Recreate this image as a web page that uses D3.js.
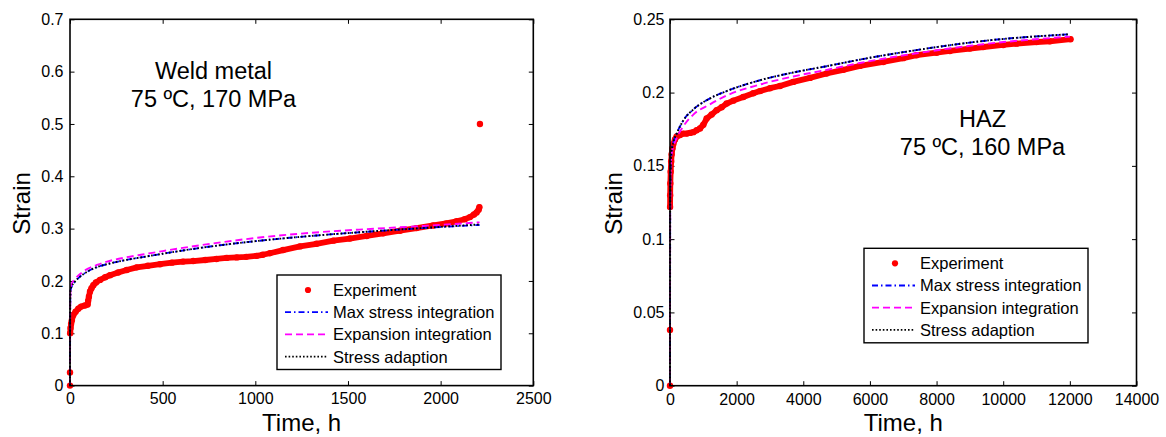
<!DOCTYPE html>
<html>
<head>
<meta charset="utf-8">
<script src="https://cdn.jsdelivr.net/npm/d3@7"></script>
<style>
  body { margin: 0; background: #fff; }
  svg text { font-family: "Liberation Sans", Arial, sans-serif; fill: #000; }
</style>
</head>
<body>
<svg id="chart" width="1166" height="437"></svg>
<script>
// ---- Weld metal, 75 ºC, 170 MPa ----
const weldExpTime = [0, 0, 1, 3, 6, 10, 18, 30, 45, 60, 80, 95, 98, 102, 108, 116, 126, 140, 162, 190,
  216, 260, 306, 360, 420, 486, 550, 610, 665, 730, 790, 845, 900, 950, 1007, 1040, 1079, 1150, 1241, 1330,
  1421, 1510, 1601, 1690, 1781, 1870, 1960, 2030, 2086, 2130, 2158, 2180, 2194, 2205, 2209, 2212];
const weldExpStrain = [0, 0.025, 0.1, 0.11, 0.118, 0.125, 0.135, 0.141, 0.147, 0.151, 0.153, 0.155, 0.162, 0.17, 0.18, 0.186, 0.192, 0.197, 0.202, 0.207,
  0.211, 0.216, 0.221, 0.226, 0.229, 0.232, 0.235, 0.237, 0.238, 0.24, 0.242, 0.244, 0.245, 0.246, 0.248, 0.25, 0.253, 0.259, 0.266, 0.271,
  0.277, 0.281, 0.286, 0.291, 0.296, 0.301, 0.306, 0.31, 0.314, 0.318, 0.322, 0.327, 0.331, 0.336, 0.341, 0.5];
const weldModelTime = [0, 1, 3, 10, 25, 50, 100, 150, 200, 300, 400, 500, 700, 1000, 1300, 1600, 1900, 2210];
const weldMaxStress = [0, 0.15, 0.182, 0.19, 0.198, 0.207, 0.219, 0.227, 0.232, 0.24, 0.246, 0.252, 0.263, 0.276, 0.286, 0.294, 0.301, 0.307];
const weldExpansion = [0, 0.15, 0.185, 0.195, 0.203, 0.212, 0.224, 0.231, 0.237, 0.245, 0.251, 0.257, 0.268, 0.282, 0.292, 0.299, 0.305, 0.312];
const weldAdaption  = [0, 0.15, 0.182, 0.19, 0.198, 0.207, 0.219, 0.227, 0.232, 0.24, 0.246, 0.252, 0.263, 0.276, 0.286, 0.294, 0.301, 0.308];
const weldXTicks = [0, 500, 1000, 1500, 2000, 2500];
const weldXTickLabels = ["0", "500", "1000", "1500", "2000", "2500"];
const weldYTicks = [0, 0.1, 0.2, 0.3, 0.4, 0.5, 0.6, 0.7];
const weldYTickLabels = ["0", "0.1", "0.2", "0.3", "0.4", "0.5", "0.6", "0.7"];
const weldNote = ["Weld metal", "75 \u00baC, 170 MPa"];

// ---- HAZ, 75 ºC, 160 MPa ----
const hazExpTime = [0, 0, 2, 5, 10, 20, 35, 50, 75, 100, 150, 200, 300, 400, 500, 600, 700, 800, 900, 1000,
  1100, 1250, 1400, 1550, 1700, 1900, 2200, 2500, 2700, 3000, 3300, 3700, 4200, 4700, 5200, 5700, 6400, 7000, 7400, 8000,
  8400, 9000, 9400, 10000, 10400, 11000, 11400, 12020];
const hazExpStrain = [0, 0.038, 0.122, 0.13, 0.138, 0.146, 0.153, 0.158, 0.162, 0.165, 0.168, 0.17, 0.171, 0.172, 0.172, 0.1725, 0.173, 0.1743, 0.1755, 0.178,
  0.1823, 0.185, 0.188, 0.19, 0.1925, 0.1945, 0.197, 0.1995, 0.201, 0.203, 0.2045, 0.2073, 0.21, 0.213, 0.2155, 0.2182, 0.2209, 0.2235, 0.2255, 0.2272,
  0.2284, 0.23, 0.2311, 0.2325, 0.2334, 0.2345, 0.235, 0.2364];
const hazModelTime = [0, 5, 20, 50, 100, 200, 400, 700, 1200, 1700, 2700, 3700, 4700, 5700, 7400, 9400, 12000];
const hazMaxStress = [0, 0.12, 0.15, 0.16, 0.166, 0.172, 0.181, 0.1885, 0.196, 0.201, 0.2084, 0.2137, 0.218, 0.2225, 0.229, 0.2352, 0.2398];
const hazExpansion = [0, 0.12, 0.148, 0.158, 0.163, 0.169, 0.177, 0.185, 0.192, 0.198, 0.2055, 0.211, 0.2155, 0.2202, 0.2268, 0.233, 0.2382];
const hazAdaption  = [0, 0.12, 0.15, 0.16, 0.166, 0.172, 0.181, 0.1885, 0.196, 0.201, 0.2084, 0.2137, 0.218, 0.2225, 0.229, 0.2352, 0.2398];
const hazXTicks = [0, 2000, 4000, 6000, 8000, 10000, 12000, 14000];
const hazXTickLabels = ["0", "2000", "4000", "6000", "8000", "10000", "12000", "14000"];
const hazYTicks = [0, 0.05, 0.1, 0.15, 0.2, 0.25];
const hazYTickLabels = ["0", "0.05", "0.1", "0.15", "0.2", "0.25"];
const hazNote = ["HAZ", "75 \u00baC, 160 MPa"];

const seriesNames = ["Experiment", "Max stress integration", "Expansion integration", "Stress adaption"];

const svg = d3.select("#chart");

const styles = {
  exp:  { color: "#ff0000" },
  max:  { color: "#0000ff", dash: "6,3,1.5,3" },
  expn: { color: "#ff00ff", dash: "7,4" },
  adp:  { color: "#000000", dash: "1.6,2" }
};

function drawPanel(p) {
  const g = svg.append("g");
  const x = d3.scaleLinear().domain([p.xTicks[0], p.xTicks[p.xTicks.length - 1]]).range([p.left, p.right]);
  const y = d3.scaleLinear().domain([p.yTicks[0], p.yTicks[p.yTicks.length - 1]]).range([p.bottom, p.top]);
  const tick = 4.5;

  // axes: labelled bottom/left, mirrored ticks on top/right
  const ax = (axis, tr) => {
    const a = g.append("g").attr("transform", tr).call(axis);
    a.select(".domain").remove();
    a.selectAll(".tick line").attr("stroke", "#000").attr("stroke-width", 1);
    a.selectAll("text").attr("font-size", 16).attr("font-family", "Liberation Sans, Arial, sans-serif").attr("fill", "#000");
    return a;
  };
  ax(d3.axisBottom(x).tickValues(p.xTicks).tickSize(-tick).tickPadding(7.5)
      .tickFormat((d, i) => p.xTickLabels[i]), `translate(0,${p.bottom})`);
  ax(d3.axisTop(x).tickValues(p.xTicks).tickSize(-tick).tickFormat(""), `translate(0,${p.top})`);
  ax(d3.axisLeft(y).tickValues(p.yTicks).tickSize(-tick).tickPadding(p.yPad)
      .tickFormat((d, i) => p.yTickLabels[i]), `translate(${p.left},0)`);
  ax(d3.axisRight(y).tickValues(p.yTicks).tickSize(-tick).tickFormat(""), `translate(${p.right},0)`);

  // experiment: dense red dots tracing a thick trail
  const exp = p.expTime.map((t, i) => [t, p.expStrain[i]]);
  const trail = exp.slice(p.trail[0], p.trail[1]);
  g.append("path").datum(trail)
    .attr("d", d3.line().x(d => x(d[0])).y(d => y(d[1])))
    .attr("fill", "none").attr("stroke", styles.exp.color)
    .attr("stroke-width", 5.8).attr("stroke-linejoin", "round").attr("stroke-linecap", "round");
  g.append("g").selectAll("circle").data(exp).join("circle")
    .attr("cx", d => x(d[0])).attr("cy", d => y(d[1])).attr("r", 3.2)
    .attr("fill", styles.exp.color);

  // model curves
  const line = d3.line().curve(d3.curveMonotoneX).x(d => x(d[0])).y(d => y(d[1]));
  [["max", p.maxStress], ["expn", p.expansion], ["adp", p.adaption]].forEach(([k, vals]) => {
    g.append("path").datum(p.modelTime.map((t, i) => [t, vals[i]]))
      .attr("d", line).attr("fill", "none")
      .attr("stroke", styles[k].color).attr("stroke-width", 1.9)
      .attr("stroke-dasharray", styles[k].dash);
  });

  // frame
  g.append("rect").attr("x", p.left).attr("y", p.top)
    .attr("width", p.right - p.left).attr("height", p.bottom - p.top)
    .attr("fill", "none").attr("stroke", "#000").attr("stroke-width", 1.6);

  // axis titles
  g.append("text").attr("x", (p.left + p.right) / 2).attr("y", 431)
    .attr("text-anchor", "middle").attr("font-size", 24).text("Time, h");
  g.append("text").attr("transform", `translate(${p.yTitleX},${(p.top + p.bottom) / 2 + 1}) rotate(-90)`)
    .attr("text-anchor", "middle").attr("font-size", 24).text("Strain");

  // condition note
  p.note.forEach((s, i) => {
    g.append("text").attr("x", p.noteX).attr("y", p.noteY + i * 28)
      .attr("text-anchor", "middle").attr("font-size", 23.5).text(s);
  });

  // legend
  const lg = g.append("g").attr("transform", `translate(${p.legend[0]},${p.legend[1]})`);
  lg.append("rect").attr("width", 224).attr("height", 94.5)
    .attr("fill", "#fff").attr("stroke", "#000").attr("stroke-width", 1.4);
  const keys = ["exp", "max", "expn", "adp"];
  seriesNames.forEach((name, i) => {
    const ry = 15 + i * 22.2;
    if (keys[i] === "exp") {
      lg.append("circle").attr("cx", 31).attr("cy", ry).attr("r", 3.1).attr("fill", styles.exp.color);
    } else {
      lg.append("line").attr("x1", 8).attr("x2", 51).attr("y1", ry).attr("y2", ry)
        .attr("stroke", styles[keys[i]].color).attr("stroke-width", 1.8)
        .attr("stroke-dasharray", styles[keys[i]].dash);
    }
    lg.append("text").attr("x", 56).attr("y", ry).attr("dy", "0.36em")
      .attr("font-size", 16.5).text(name);
  });
}

drawPanel({
  left: 70, right: 533.3, top: 19.3, bottom: 385.6, yPad: 6.5, yTitleX: 30,
  xTicks: weldXTicks, xTickLabels: weldXTickLabels, yTicks: weldYTicks, yTickLabels: weldYTickLabels,
  expTime: weldExpTime, expStrain: weldExpStrain, trail: [2, weldExpTime.length - 1],
  modelTime: weldModelTime, maxStress: weldMaxStress, expansion: weldExpansion, adaption: weldAdaption,
  note: weldNote, noteX: 213.5, noteY: 79,
  legend: [277, 275]
});

drawPanel({
  left: 670, right: 1136.5, top: 19.3, bottom: 385.7, yPad: 5.5, yTitleX: 622,
  xTicks: hazXTicks, xTickLabels: hazXTickLabels, yTicks: hazYTicks, yTickLabels: hazYTickLabels,
  expTime: hazExpTime, expStrain: hazExpStrain, trail: [2, hazExpTime.length],
  modelTime: hazModelTime, maxStress: hazMaxStress, expansion: hazExpansion, adaption: hazAdaption,
  note: hazNote, noteX: 982.5, noteY: 126.7,
  legend: [864, 248.3]
});
</script>
</body>
</html>
